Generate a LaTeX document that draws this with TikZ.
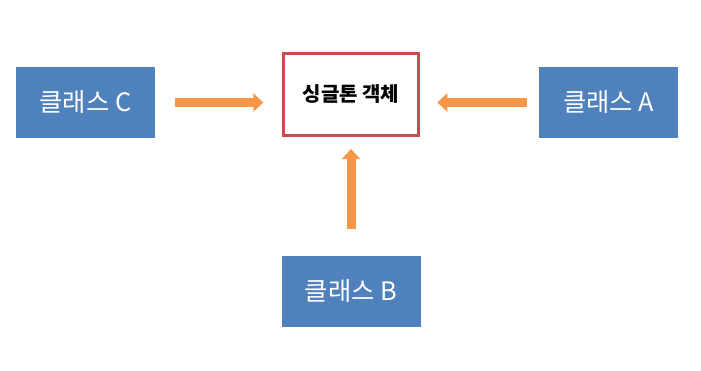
\documentclass[tikz,border=0pt]{standalone}
\usepackage{fontspec}
\setmainfont{Noto Sans CJK KR}
\usetikzlibrary{arrows.meta}
\definecolor{boxblue}{HTML}{4F81BD}
\definecolor{arrorange}{HTML}{F79646}
\definecolor{boxred}{HTML}{C0504D}
\tikzset{
  classbox/.style={rectangle, fill=boxblue, text=white, minimum width=104.25pt, minimum height=53.25pt, inner sep=0pt, font=\fontsize{19}{22}\selectfont},
  singlebox/.style={rectangle, draw=boxred, line width=2.25pt, fill=white, minimum width=101.25pt, minimum height=61.5pt, inner sep=0pt, font=\fontsize{15}{18}\selectfont\bfseries},
  fatarrow/.style={draw=arrorange, line width=6.75pt, -{Triangle[width=13.5pt, length=7.5pt]}}
}
\begin{document}
\begin{tikzpicture}[x=0.75pt, y=-0.75pt]
\useasboundingbox (0,0) rectangle (701,371);
\node[classbox] (C) at (85.5,102.5) {클래스 C};
\node[singlebox] (S) at (351,94.5) {싱글톤 객체};
\node[classbox] (A) at (608.5,102.5) {클래스 A};
\node[classbox] (B) at (351,291.5) {클래스 B};
\draw[fatarrow, shorten <=15pt, shorten >=14pt] (C.east) -- (C.east -| S.west);
\draw[fatarrow, shorten <=9pt, shorten >=13pt] (A.west) -- (A.west -| S.east);
\draw[fatarrow, shorten <=20pt, shorten >=9pt] (B.north) -- (B.north |- S.south);
\end{tikzpicture}
\end{document}
